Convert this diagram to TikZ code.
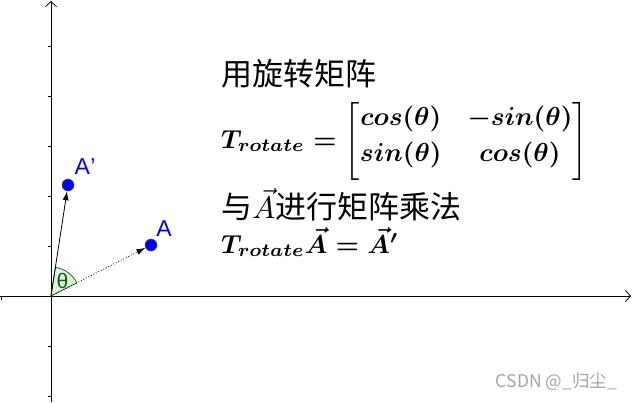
\documentclass[tikz,border=0pt]{standalone}
\usepackage{amsmath}
\usepackage{graphicx}
\usepackage{fontspec}
\newfontfamily\cjk{Noto Sans CJK SC}
\newfontfamily\lab{Liberation Sans}
\usetikzlibrary{arrows.meta,calc}
\definecolor{ptblue}{RGB}{0,0,255}
\definecolor{angdark}{RGB}{0,100,0}
\definecolor{angfill}{RGB}{225,240,225}
\definecolor{wm}{RGB}{165,165,165}
\newcommand{\mathup}[2][2.6]{\scalebox{#1}{\fontsize{10}{12}\selectfont#2}}
\tikzset{
  axis/.style={line width=0.9pt,-{Straight Barb[length=5pt,width=11pt,line width=0.8pt]}},
  tick/.style={line width=0.8pt},
  pt/.style={circle,fill=ptblue,draw=black!70,line width=0.5pt,minimum size=12pt,inner sep=0pt},
  ptlabel/.style={text=ptblue,font=\lab\fontsize{23}{26}\selectfont,inner sep=0pt},
  vec/.style={line width=0.8pt,-{Latex[length=9pt,width=6pt]}},
  dvec/.style={vec,dotted},
  cjktext/.style={anchor=base west,inner sep=0pt,font=\cjk\fontsize{31}{36}\selectfont},
  mathtext/.style={anchor=base west,inner sep=0pt},
}
\begin{document}
\begin{tikzpicture}[x=1pt,y=1pt]
\useasboundingbox (0,0) rectangle (632,-402);
% axes
\coordinate (O) at (51,-296);
\coordinate (xs) at (0,-296);
\coordinate (xe) at (631,-296);
\coordinate (ys) at (51,-402);
\coordinate (ye) at (51,-1);
\draw[axis] (xs) -- (xe);
\draw[axis] (ys) -- (ye);
% ticks
\foreach \yy in {46,96,146,196,246,346,396}
  \draw[tick] (47.5,-\yy) -- (51,-\yy);
\draw[tick] (1.5,-296) -- (1.5,-299.5);
% angle sector
\filldraw[fill=angfill,draw=angdark,line width=0.7pt]
  (O) -- ([shift={(27:29)}]O) arc[start angle=27,end angle=81.3,radius=29] -- cycle;
\node[text=angdark,font=\lab\fontsize{21}{24}\selectfont,inner sep=0pt] (th) at (62.5,-281) {θ};
% points
\node[pt] (A) at (151,-245) {};
\node[pt] (Ap) at (68,-185) {};
\draw[vec] (O) -- (Ap);
\draw[dvec] (O) -- (A);
\node[ptlabel] (Al) at (164,-229) {A};
\node[ptlabel] (Apl) at (85,-167) {A\kern0.5pt\textquoteright};
% text
\node[cjktext] (l1) at (221,-85) {用旋转矩阵};
\node[mathtext] (l2) at (221,-148) {\mathup{\boldmath$T_{rotate}=\begin{bmatrix}\rule{0pt}{9pt}cos(\theta) & -sin(\theta)\\[1.5pt] \rule[-7.5pt]{0pt}{1pt}sin(\theta) & cos(\theta)\end{bmatrix}$}};
\node[cjktext] (l3) at (221,-218) {与\mathup[3.1]{$\vec{A}$}进行矩阵乘法};
\node[mathtext] (l4) at (221,-253) {\mathup{\boldmath$T_{rotate}\vec{A}=\vec{A}'$}};
% watermark
\node[anchor=base east,inner sep=0pt,text=wm,font=\cjk\fontsize{17.5}{20}\selectfont] (wm) at (617,-387) {CSDN @\_归尘\_};
\end{tikzpicture}
\end{document}
